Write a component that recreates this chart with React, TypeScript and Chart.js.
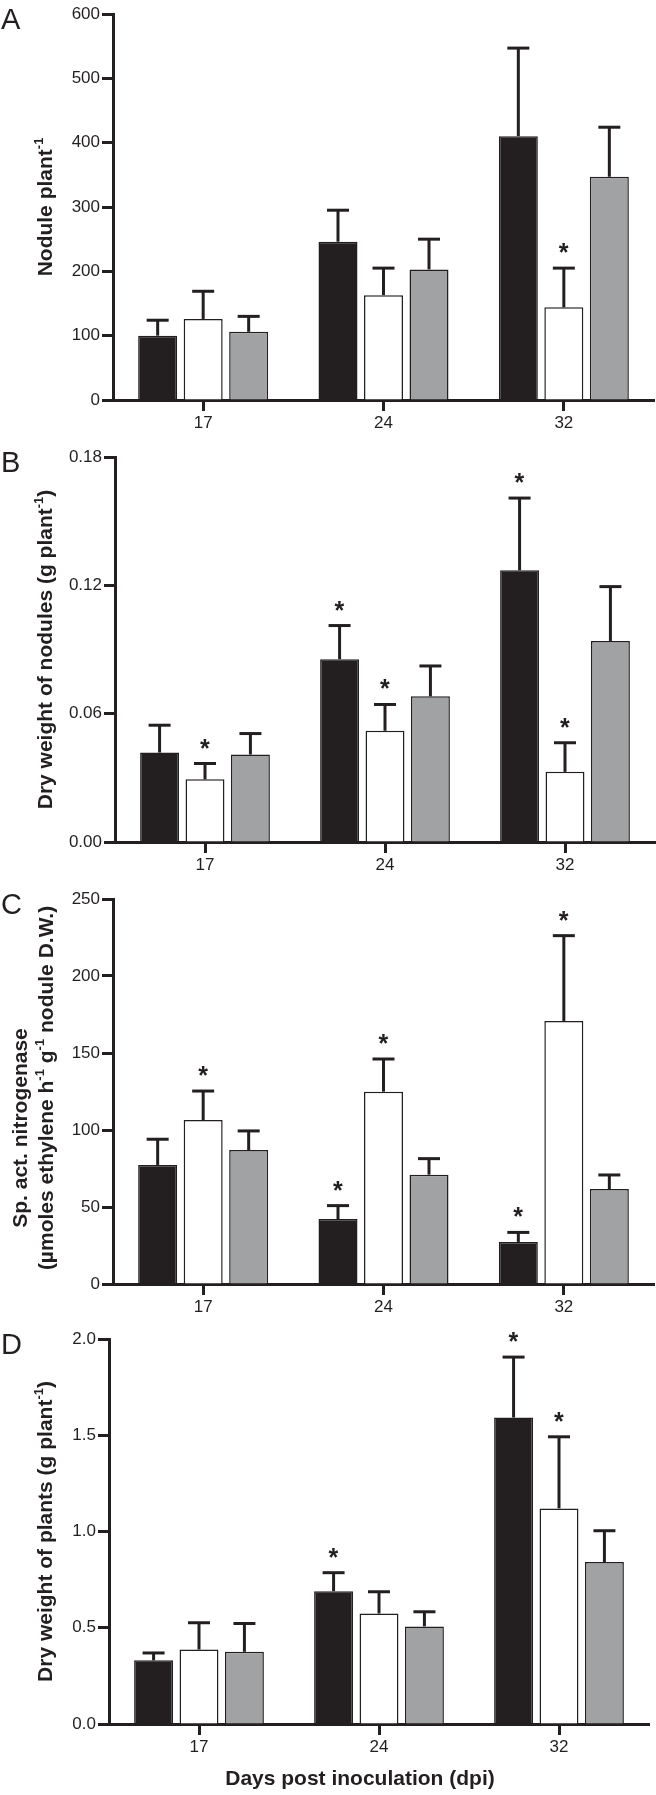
import React, { useEffect, useRef } from 'react';
import { Chart, registerables } from 'chart.js';

Chart.register(...registerables);

// ---------- data ----------
const categories = ['17', '24', '32'];

// Panel A: Nodule plant-1
const noduleBlack = [100, 246, 410];
const noduleBlackErr = [24, 49, 137];
const noduleWhite = [126, 163, 144];
const noduleWhiteErr = [43, 42, 61];
const noduleGray = [106, 203, 347];
const noduleGrayErr = [24, 47, 77];
const noduleBlackStar = [0, 0, 0];
const noduleWhiteStar = [0, 0, 1];
const noduleGrayStar = [0, 0, 0];
const noduleTicks = [0, 100, 200, 300, 400, 500, 600];

// Panel B: Dry weight of nodules (g plant-1)
const nodDwBlack = [0.0418, 0.0855, 0.127];
const nodDwBlackErr = [0.0128, 0.0157, 0.0338];
const nodDwWhite = [0.0293, 0.052, 0.0328];
const nodDwWhiteErr = [0.0074, 0.0123, 0.0136];
const nodDwGray = [0.0409, 0.0681, 0.094];
const nodDwGrayErr = [0.0098, 0.0142, 0.0254];
const nodDwBlackStar = [0, 1, 1];
const nodDwWhiteStar = [1, 1, 1];
const nodDwGrayStar = [0, 0, 0];
const nodDwTicks = [0, 0.06, 0.12, 0.18];

// Panel C: Sp. act. nitrogenase
const nitroBlack = [77.3, 42.2, 27.3];
const nitroBlackErr = [16.7, 8.7, 6.2];
const nitroWhite = [106.5, 124.9, 170.8];
const nitroWhiteErr = [18.8, 21.2, 55.4];
const nitroGray = [87, 71, 61.7];
const nitroGrayErr = [12.4, 10.4, 9.1];
const nitroBlackStar = [0, 1, 1];
const nitroWhiteStar = [1, 1, 1];
const nitroGrayStar = [0, 0, 0];
const nitroTicks = [0, 50, 100, 150, 200, 250];

// Panel D: Dry weight of plants (g plant-1)
const plantDwBlack = [0.331, 0.69, 1.592];
const plantDwBlackErr = [0.038, 0.096, 0.314];
const plantDwWhite = [0.387, 0.574, 1.12];
const plantDwWhiteErr = [0.139, 0.113, 0.372];
const plantDwGray = [0.375, 0.507, 0.841];
const plantDwGrayErr = [0.147, 0.076, 0.163];
const plantDwBlackStar = [0, 1, 1];
const plantDwWhiteStar = [0, 0, 1];
const plantDwGrayStar = [0, 0, 0];
const plantDwTicks = [0, 0.5, 1, 1.5, 2];

const xTitle = 'Days post inoculation (dpi)';

// ---------- styles ----------
const FAMILY = '"Liberation Sans", Arial, Helvetica, sans-serif';
const INK = '#231f20';
const BLACK_FILL = '#231f20';
const WHITE_FILL = '#ffffff';
const GRAY_FILL = '#a1a2a4';
const TITLE_SIZE = 21;

type Seg = [string, number];

interface PanelDef {
  letter: string;
  black: number[]; blackErr: number[]; blackStar: number[];
  white: number[]; whiteErr: number[]; whiteStar: number[];
  gray: number[]; grayErr: number[]; grayStar: number[];
  ticks: number[];
  decimals: number;
  titles: { segs: Seg[]; x: number; cy?: number }[];
  canvasTop: number; canvasH: number;
  left: number; right: number; top: number; bottom: number;
  xTitle?: boolean;
}

const panels: PanelDef[] = [
  {
    letter: 'A',
    black: noduleBlack, blackErr: noduleBlackErr, blackStar: noduleBlackStar,
    white: noduleWhite, whiteErr: noduleWhiteErr, whiteStar: noduleWhiteStar,
    gray: noduleGray, grayErr: noduleGrayErr, grayStar: noduleGrayStar,
    ticks: noduleTicks, decimals: 0,
    titles: [{ segs: [['Nodule plant', 0], ['-1', 1]], x: 44 }],
    canvasTop: 0, canvasH: 440, left: 113, right: 654, top: 14, bottom: 400,
  },
  {
    letter: 'B',
    black: nodDwBlack, blackErr: nodDwBlackErr, blackStar: nodDwBlackStar,
    white: nodDwWhite, whiteErr: nodDwWhiteErr, whiteStar: nodDwWhiteStar,
    gray: nodDwGray, grayErr: nodDwGrayErr, grayStar: nodDwGrayStar,
    ticks: nodDwTicks, decimals: 2,
    titles: [{ segs: [['Dry weight of nodules (g plant', 0], ['-1', 1], [')', 0]], x: 44 }],
    canvasTop: 440, canvasH: 440, left: 115, right: 655, top: 457, bottom: 842,
  },
  {
    letter: 'C',
    black: nitroBlack, blackErr: nitroBlackErr, blackStar: nitroBlackStar,
    white: nitroWhite, whiteErr: nitroWhiteErr, whiteStar: nitroWhiteStar,
    gray: nitroGray, grayErr: nitroGrayErr, grayStar: nitroGrayStar,
    ticks: nitroTicks, decimals: 0,
    titles: [
      { segs: [['Sp. act. nitrogenase', 0]], x: 19, cy: 1128 },
      { segs: [['(µmoles ethylene h', 0], ['-1', 1], [' g', 0], ['-1', 1], [' nodule D.W.)', 0]], x: 45, cy: 1088 },
    ],
    canvasTop: 880, canvasH: 440, left: 113, right: 654, top: 899, bottom: 1284,
  },
  {
    letter: 'D',
    black: plantDwBlack, blackErr: plantDwBlackErr, blackStar: plantDwBlackStar,
    white: plantDwWhite, whiteErr: plantDwWhiteErr, whiteStar: plantDwWhiteStar,
    gray: plantDwGray, grayErr: plantDwGrayErr, grayStar: plantDwGrayStar,
    ticks: plantDwTicks, decimals: 1,
    titles: [{ segs: [['Dry weight of plants (g plant', 0], ['-1', 1], [')', 0]], x: 44 }],
    canvasTop: 1320, canvasH: 475, left: 109, right: 649, top: 1339, bottom: 1724,
    xTitle: true,
  },
];

function drawVerticalRich(ctx: CanvasRenderingContext2D, segs: Seg[], cx: number, cy: number, size: number) {
  const main = `bold ${size}px ${FAMILY}`;
  const sup = `bold ${Math.round(size * 0.62)}px ${FAMILY}`;
  ctx.save();
  let total = 0;
  const widths = segs.map(([t, s]) => {
    ctx.font = s ? sup : main;
    const w = ctx.measureText(t).width;
    total += w;
    return w;
  });
  ctx.translate(cx, cy);
  ctx.rotate(-Math.PI / 2);
  ctx.fillStyle = INK;
  ctx.textAlign = 'left';
  ctx.textBaseline = 'alphabetic';
  let x = -total / 2;
  const base = size * 0.36;
  segs.forEach(([t, s], i) => {
    ctx.font = s ? sup : main;
    ctx.fillText(t, x, s ? base - size * 0.4 : base);
    x += widths[i];
  });
  ctx.restore();
}

function drawStar(ctx: CanvasRenderingContext2D, cx: number, cy: number) {
  ctx.save();
  ctx.font = `bold 100px ${FAMILY}`;
  const m0 = ctx.measureText('*');
  const h0 = m0.actualBoundingBoxAscent + m0.actualBoundingBoxDescent;
  const size = h0 > 0 ? (9.5 / h0) * 100 : 28;
  ctx.font = `bold ${size}px ${FAMILY}`;
  ctx.textAlign = 'center';
  ctx.textBaseline = 'alphabetic';
  const m = ctx.measureText('*');
  const asc = m.actualBoundingBoxAscent;
  const desc = m.actualBoundingBoxDescent;
  const baseY = cy + (asc - desc) / 2;
  const bx = cx - (m.actualBoundingBoxRight - m.actualBoundingBoxLeft) / 2;
  ctx.fillStyle = INK;
  ctx.fillText('*', bx, baseY);
  ctx.restore();
}

const errorBarPlugin = {
  id: 'errorBars',
  afterDatasetsDraw(chart: any) {
    const ctx: CanvasRenderingContext2D = chart.ctx;
    const yScale = chart.scales.y;
    chart.data.datasets.forEach((ds: any, i: number) => {
      const meta = chart.getDatasetMeta(i);
      meta.data.forEach((el: any, j: number) => {
        const topPx = yScale.getPixelForValue(ds.data[j] + ds.errors[j]);
        ctx.save();
        ctx.strokeStyle = INK;
        ctx.lineWidth = 3;
        ctx.lineCap = 'butt';
        ctx.beginPath();
        ctx.moveTo(el.x, el.y);
        ctx.lineTo(el.x, topPx);
        ctx.stroke();
        ctx.beginPath();
        ctx.moveTo(el.x - 11, topPx);
        ctx.lineTo(el.x + 11, topPx);
        ctx.stroke();
        ctx.restore();
        if (ds.stars[j]) drawStar(ctx, el.x, topPx - 20);
      });
    });
  },
};

function makeTextPlugin(p: PanelDef) {
  return {
    id: 'panelText',
    afterDraw(chart: any) {
      const ctx: CanvasRenderingContext2D = chart.ctx;
      const area = chart.chartArea;
      ctx.save();
      ctx.fillStyle = INK;
      ctx.font = `29px ${FAMILY}`;
      ctx.textAlign = 'left';
      ctx.textBaseline = 'alphabetic';
      ctx.fillText(p.letter, 1, area.top + 14.5);
      ctx.restore();
      p.titles.forEach((t) => {
        const cy = t.cy !== undefined ? t.cy - p.canvasTop : (area.top + area.bottom) / 2;
        drawVerticalRich(ctx, t.segs, t.x, cy, TITLE_SIZE);
      });
      if (p.xTitle) {
        ctx.save();
        ctx.fillStyle = INK;
        ctx.font = `bold ${TITLE_SIZE}px ${FAMILY}`;
        ctx.textAlign = 'center';
        ctx.textBaseline = 'middle';
        ctx.fillText(xTitle, 360, 1779 - p.canvasTop);
        ctx.restore();
      }
    },
  };
}

function makeConfig(p: PanelDef): any {
  const gridOpts = {
    display: true,
    offset: false,
    drawOnChartArea: false,
    drawTicks: true,
    tickLength: 11,
    tickWidth: 3,
    tickColor: INK,
    color: INK,
  };
  const borderOpts = { display: true, width: 3, color: INK };
  const tickFont = { family: FAMILY, size: 17 };
  const areaBottomLocal = p.bottom - p.canvasTop;
  return {
    type: 'bar',
    data: {
      labels: categories,
      datasets: [
        { data: p.black, errors: p.blackErr, stars: p.blackStar, backgroundColor: BLACK_FILL, borderColor: INK, borderWidth: 1.5 },
        { data: p.white, errors: p.whiteErr, stars: p.whiteStar, backgroundColor: WHITE_FILL, borderColor: INK, borderWidth: 1.5 },
        { data: p.gray, errors: p.grayErr, stars: p.grayStar, backgroundColor: GRAY_FILL, borderColor: INK, borderWidth: 1.5 },
      ],
    },
    options: {
      animation: false,
      responsive: false,
      maintainAspectRatio: false,
      devicePixelRatio: 1,
      layout: { padding: { left: 0, right: 656 - p.right, top: p.top - p.canvasTop, bottom: 0 } },
      plugins: { legend: { display: false }, tooltip: { enabled: false }, title: { display: false } },
      datasets: { bar: { categoryPercentage: 0.757, barPercentage: 0.857 } },
      scales: {
        x: {
          type: 'category',
          offset: true,
          z: 1,
          grid: gridOpts,
          border: borderOpts,
          ticks: { color: INK, font: tickFont, padding: 2, maxRotation: 0, autoSkip: false },
          afterFit: (s: any) => { s.height = p.canvasH - areaBottomLocal; },
        },
        y: {
          type: 'linear',
          min: p.ticks[0],
          max: p.ticks[p.ticks.length - 1],
          z: 1,
          grid: gridOpts,
          border: borderOpts,
          afterBuildTicks: (s: any) => { s.ticks = p.ticks.map((v) => ({ value: v })); },
          ticks: { color: INK, font: tickFont, padding: 2, callback: (v: any) => Number(v).toFixed(p.decimals) },
          afterFit: (s: any) => { s.width = p.left; },
        },
      },
    },
    plugins: [errorBarPlugin, makeTextPlugin(p)],
  };
}

function Panel({ p }: { p: PanelDef }) {
  const ref = useRef<HTMLCanvasElement | null>(null);
  useEffect(() => {
    if (!ref.current) return;
    const chart = new Chart(ref.current, makeConfig(p));
    return () => chart.destroy();
  }, [p]);
  return (
    <canvas
      ref={ref}
      width={656}
      height={p.canvasH}
      style={{ position: 'absolute', left: 0, top: p.canvasTop, width: 656, height: p.canvasH }}
    />
  );
}

export default function App() {
  return (
    <div style={{ position: 'absolute', left: 0, top: 0, width: 656, height: 1795, background: '#ffffff' }}>
      {panels.map((p) => (
        <Panel key={p.letter} p={p} />
      ))}
    </div>
  );
}
